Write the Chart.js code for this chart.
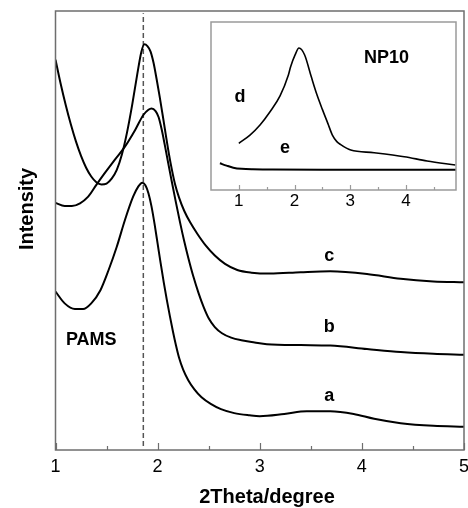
<!DOCTYPE html>
<html>
<head>
<meta charset="utf-8">
<script src="https://cdn.jsdelivr.net/npm/chart.js@4.4.0/dist/chart.umd.min.js"></script>
<style>
    body { margin: 0; background: #fff; }
    #wrap { position: relative; width: 468px; height: 508px; }
    #main { position: absolute; left: 0; top: 0; }
    #inset { position: absolute; left: 205px; top: 16px; }
</style>
</head>
<body>
<div id="wrap">
    <canvas id="main" width="468" height="508"></canvas>
    <canvas id="inset" width="258" height="200"></canvas>
</div>
<script>
// Curva a (PAMS)
const thetaA = [1.00, 1.09, 1.19, 1.27, 1.35, 1.44, 1.52, 1.60, 1.68, 1.76, 1.81, 1.85, 1.88, 1.91, 1.94, 1.97, 2.00, 2.03, 2.06, 2.09, 2.12, 2.15, 2.18, 2.21, 2.25, 2.30, 2.36, 2.43, 2.52, 2.62, 2.75, 2.90, 3.00, 3.24, 3.46, 3.69, 3.92, 4.12, 4.38, 4.70, 5.00];
const intensA = [36.1, 33.4, 32.1, 32.1, 33.4, 36.4, 41.0, 46.3, 52.4, 57.7, 60.0, 60.9, 60.3, 58.5, 55.5, 51.5, 47.0, 42.5, 38.2, 34.2, 30.5, 27.0, 23.8, 21.0, 18.3, 15.9, 13.8, 12.0, 10.5, 9.3, 8.4, 7.9, 7.7, 8.2, 8.8, 8.8, 8.2, 7.1, 6.1, 5.5, 5.3];

// Curva b
const thetaB = [1.00, 1.09, 1.16, 1.24, 1.32, 1.40, 1.48, 1.58, 1.68, 1.78, 1.86, 1.91, 1.94, 1.98, 2.01, 2.04, 2.07, 2.10, 2.14, 2.18, 2.22, 2.26, 2.30, 2.35, 2.40, 2.45, 2.50, 2.56, 2.63, 2.72, 2.82, 2.95, 3.07, 3.40, 3.69, 4.05, 4.38, 4.70, 5.00];
const intensB = [56.3, 55.6, 55.6, 56.2, 57.7, 60.4, 63.0, 66.1, 69.1, 72.9, 76.3, 77.5, 77.8, 77.2, 75.8, 73.0, 69.5, 65.8, 61.0, 56.3, 51.8, 47.6, 43.8, 39.5, 35.8, 32.6, 30.0, 28.0, 26.6, 25.6, 25.0, 24.5, 24.1, 23.9, 23.8, 23.0, 22.3, 21.9, 21.7];

// Curva c
const thetaC = [1.00, 1.05, 1.10, 1.15, 1.20, 1.25, 1.30, 1.35, 1.40, 1.45, 1.50, 1.55, 1.60, 1.65, 1.70, 1.75, 1.80, 1.84, 1.87, 1.90, 1.93, 1.96, 1.99, 2.02, 2.05, 2.08, 2.11, 2.14, 2.17, 2.21, 2.26, 2.32, 2.39, 2.47, 2.56, 2.66, 2.78, 2.92, 3.10, 3.40, 3.69, 4.05, 4.38, 4.70, 5.00];
const intensC = [88.9, 83.5, 78.6, 74.2, 70.3, 67.0, 64.3, 62.3, 61.0, 60.5, 60.7, 61.8, 63.8, 67.3, 72.3, 78.5, 85.5, 90.6, 92.4, 92.0, 90.8, 88.2, 84.5, 80.5, 76.2, 71.8, 67.5, 63.8, 60.6, 57.5, 54.5, 51.8, 49.2, 46.6, 44.3, 42.4, 41.0, 40.4, 40.2, 40.5, 40.7, 40.1, 39.0, 38.4, 38.2];

// Linha tracejada de referência
const refTheta = [1.86, 1.86];
const refIntens = [0.9, 99.5];

// Inset NP10: curvas d e e
const thetaD = [1.00, 1.20, 1.38, 1.56, 1.74, 1.89, 1.93, 2.01, 2.08, 2.18, 2.30, 2.40, 2.50, 2.60, 2.68, 2.76, 2.83, 3.01, 3.43, 3.97, 4.38, 4.89];
const intensD = [27.8, 32.7, 38.7, 46.6, 56.0, 68.5, 73.4, 80.4, 84.5, 80.5, 67.5, 57.0, 48.0, 39.5, 32.7, 28.8, 27.0, 23.8, 22.2, 19.8, 17.3, 14.9];
const thetaE = [0.66, 0.78, 0.90, 1.05, 1.25, 1.60, 2.50, 3.50, 4.90];
const intensE = [15.9, 14.5, 13.3, 12.6, 12.3, 12.2, 12.1, 12.1, 12.1];

// Ticks
const mainMajorTicks = [1, 2, 3, 4, 5];
const mainMinorTicks = [1.5, 2.5, 3.5, 4.5];
const insetMajorTicks = [1, 2, 3, 4];
const insetMinorTicks = [1.5, 2.5, 3.5, 4.5];

const FONT = "'Liberation Sans', Arial, sans-serif";
Chart.defaults.font.family = FONT;
Chart.defaults.color = '#000';

const toPoints = (xs, ys) => xs.map((x, i) => ({ x: x, y: ys[i] }));

const curve = (xs, ys, width) => ({
    data: toPoints(xs, ys),
    borderColor: '#000',
    borderWidth: width,
    pointRadius: 0,
    fill: false,
    cubicInterpolationMode: 'monotone'
});

// moldura, ticks para dentro e rótulos
function makeDecor(cfg) {
    return {
        id: 'decor',
        afterDatasetsDraw(chart) {
            const { ctx, chartArea: a, scales: { x, y } } = chart;
            ctx.save();
            ctx.strokeStyle = cfg.frameColor;
            ctx.lineWidth = 1.5;
            ctx.strokeRect(a.left, a.top, a.right - a.left, a.bottom - a.top);
            ctx.beginPath();
            cfg.major.forEach(v => {
                const px = Math.round(x.getPixelForValue(v)) + 0.5;
                ctx.moveTo(px, a.bottom);
                ctx.lineTo(px, a.bottom - cfg.majorLen);
            });
            cfg.minor.forEach(v => {
                const px = Math.round(x.getPixelForValue(v)) + 0.5;
                ctx.moveTo(px, a.bottom);
                ctx.lineTo(px, a.bottom - cfg.minorLen);
            });
            ctx.lineWidth = 1.2;
            ctx.stroke();

            ctx.fillStyle = '#000';
            ctx.textAlign = 'center';
            ctx.textBaseline = 'middle';
            ctx.font = 'bold ' + cfg.labelSize + 'px ' + FONT;
            cfg.labels.forEach(l => {
                ctx.fillText(l.text, x.getPixelForValue(l.x), y.getPixelForValue(l.y));
            });
            ctx.restore();
        },
        afterDraw(chart) {
            if (!cfg.titles) return;
            const { ctx } = chart;
            ctx.save();
            ctx.fillStyle = '#000';
            ctx.textAlign = 'center';
            ctx.textBaseline = 'middle';
            ctx.font = 'bold 20px ' + FONT;
            ctx.fillText(cfg.titles.x.text, cfg.titles.x.cx, cfg.titles.x.cy);
            ctx.translate(cfg.titles.y.cx, cfg.titles.y.cy);
            ctx.rotate(-Math.PI / 2);
            ctx.fillText(cfg.titles.y.text, 0, 0);
            ctx.restore();
        }
    };
}

// Gráfico principal
new Chart(document.getElementById('main'), {
    type: 'line',
    data: {
        datasets: [
            curve(thetaA, intensA, 2),
            curve(thetaB, intensB, 2),
            curve(thetaC, intensC, 2),
            {
                data: toPoints(refTheta, refIntens),
                borderColor: '#555',
                borderWidth: 1.5,
                borderDash: [5, 3],
                pointRadius: 0
            }
        ]
    },
    options: {
        responsive: false,
        animation: false,
        devicePixelRatio: 1,
        layout: { padding: { left: 55.5, top: 11, right: 4, bottom: 0 } },
        plugins: { legend: { display: false }, tooltip: { enabled: false } },
        scales: {
            x: {
                type: 'linear',
                min: 1,
                max: 5,
                grid: { display: false, drawTicks: false },
                border: { display: false },
                ticks: { stepSize: 1, padding: 6, font: { size: 18 }, color: '#000', maxRotation: 0 },
                afterFit: (s) => { s.height = 58; s.paddingLeft = 0; s.paddingRight = 0; }
            },
            y: { display: false, min: 0, max: 100 }
        }
    },
    plugins: [makeDecor({
        frameColor: '#6e6e6e',
        major: mainMajorTicks,
        minor: mainMinorTicks,
        majorLen: 7,
        minorLen: 4,
        labelSize: 18,
        labels: [
            { text: 'c', x: 3.68, y: 44.2 },
            { text: 'b', x: 3.68, y: 27.9 },
            { text: 'a', x: 3.68, y: 12.4 },
            { text: 'PAMS', x: 1.35, y: 25.1 }
        ],
        titles: {
            x: { text: '2Theta/degree', cx: 267, cy: 497 },
            y: { text: 'Intensity', cx: 27, cy: 209 }
        }
    })]
});

// Inset NP10
new Chart(document.getElementById('inset'), {
    type: 'line',
    data: {
        datasets: [
            curve(thetaD, intensD, 1.6),
            curve(thetaE, intensE, 2)
        ]
    },
    options: {
        responsive: false,
        animation: false,
        devicePixelRatio: 1,
        layout: { padding: { left: 6, top: 6, right: 7, bottom: 0 } },
        plugins: { legend: { display: false }, tooltip: { enabled: false } },
        scales: {
            x: {
                type: 'linear',
                min: 0.5,
                max: 4.9,
                grid: { display: false, drawTicks: false },
                border: { display: false },
                ticks: {
                    stepSize: 1,
                    includeBounds: false,
                    padding: 1,
                    font: { size: 17 },
                    color: '#000',
                    maxRotation: 0,
                    callback: (v) => Number.isInteger(v) ? v : ''
                },
                afterFit: (s) => { s.height = 26; s.paddingLeft = 0; s.paddingRight = 0; }
            },
            y: { display: false, min: 0, max: 100 }
        }
    },
    plugins: [makeDecor({
        frameColor: '#9a9a9a',
        major: insetMajorTicks,
        minor: insetMinorTicks,
        majorLen: 5,
        minorLen: 3,
        labelSize: 18,
        labels: [
            { text: 'd', x: 1.02, y: 55.5 },
            { text: 'e', x: 1.83, y: 25 },
            { text: 'NP10', x: 3.65, y: 78.4 }
        ]
    })]
});
</script>
</body>
</html>
